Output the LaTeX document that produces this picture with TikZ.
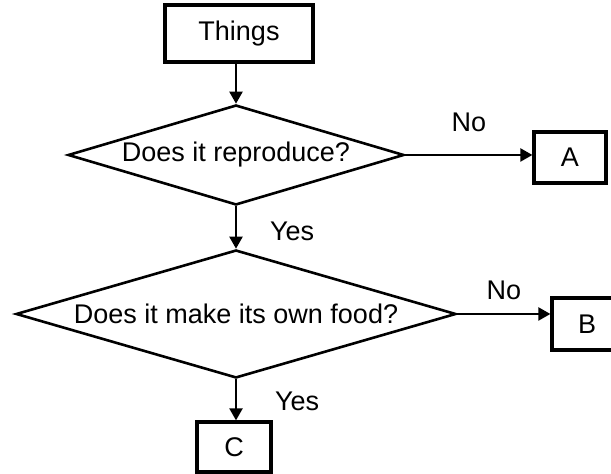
\documentclass[tikz,border=0pt]{standalone}
\usepackage{fontspec}
\setmainfont{Liberation Sans}
\usetikzlibrary{shapes.geometric,arrows.meta}

\tikzset{
    box/.style={draw, line width=1.6pt, inner sep=0pt},
    test/.style={draw, diamond, line width=1.3pt, inner sep=0pt},
    arr/.style={line width=1.1pt, -{Triangle[length=6pt,width=6.5pt]}},
    lbl/.style={inner sep=2pt}
}

\begin{document}
\begin{tikzpicture}[x=0.5pt, y=-0.5pt, font=\fontsize{13.5}{16}\selectfont]
        \useasboundingbox (0,0) rectangle (611,474);

        % start and the two questions
        \node[box, minimum width=74pt, minimum height=28.5pt] (things) at (239, 33.5) {Things};
        \node[test, aspect=3.36, minimum width=168pt, minimum height=50pt] (reproduce) at (236, 155) {Does it reproduce?};
        \node[test, aspect=3.44, minimum width=220pt, minimum height=64pt] (food) at (236, 314) {Does it make its own food?};

        % end boxes
        \node[box, minimum width=36pt, minimum height=25.5pt] (a) at (570, 157.5) {A};
        \node[box, minimum width=35pt, minimum height=26pt] (b) at (587, 324) {B};
        \node[box, minimum width=37pt, minimum height=25pt] (c) at (234, 447) {C};

        \draw[arr] (things.south -| reproduce.north) -- (reproduce);
        \draw[arr] (reproduce) -- (food) node[lbl, midway, right=14.5pt, yshift=-2pt] {Yes};
        \draw[arr] (food) -- (food.south |- c.north) node[lbl, midway, right=17pt, yshift=-1pt] {Yes};

        \draw[arr] (reproduce.east) -- (reproduce.east -| a.west) node[lbl, midway, above=9pt] {No};
        \draw[arr] (food.east) -- (food.east -| b.west) node[lbl, midway, above=4.5pt] {No};

    \end{tikzpicture}
\end{document}
